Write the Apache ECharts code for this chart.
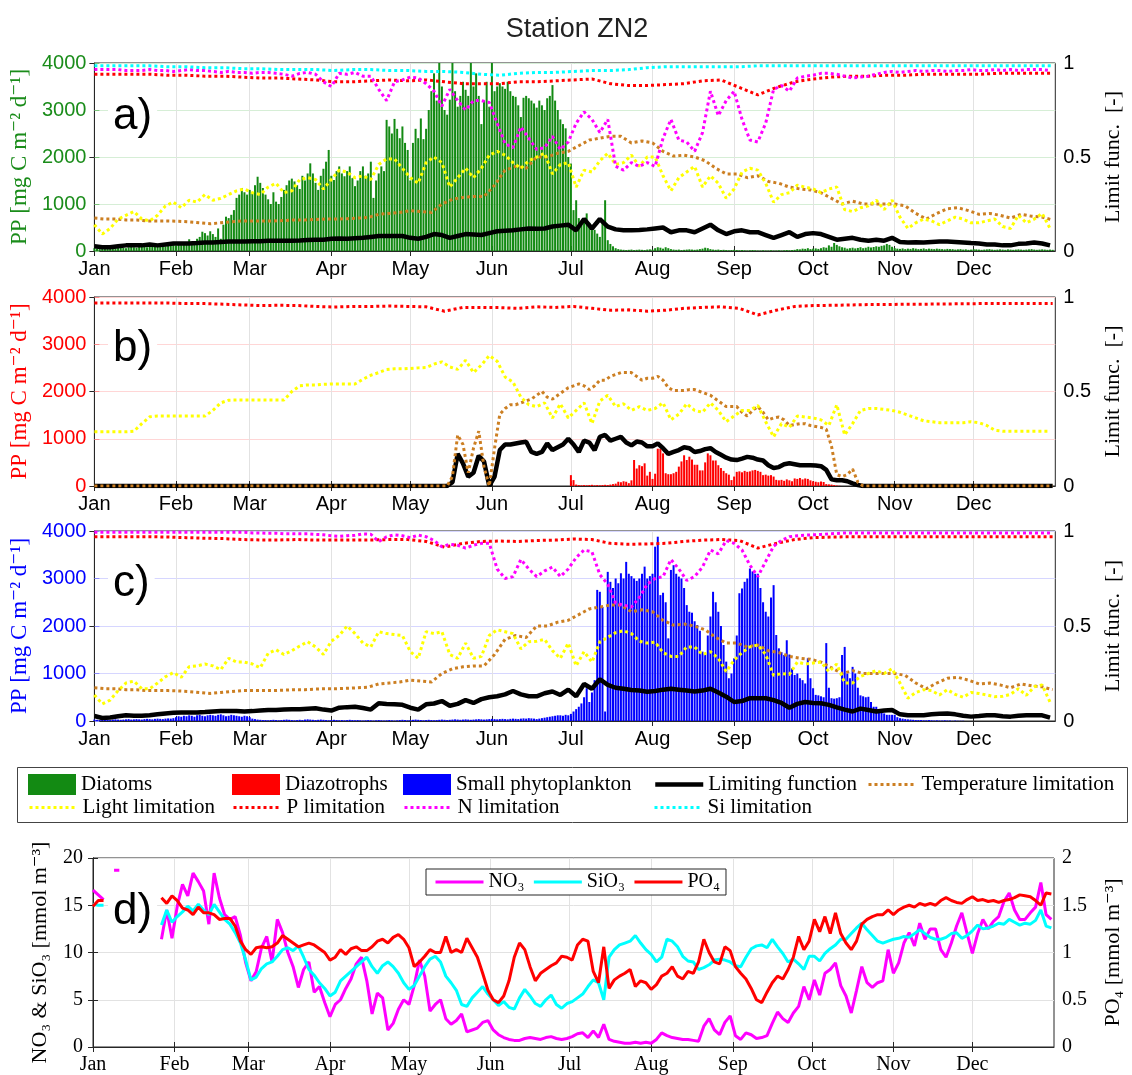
<!DOCTYPE html>
<html>
<head>
<meta charset="utf-8">
<title>Station ZN2</title>
<script src="https://cdn.jsdelivr.net/npm/echarts@6/dist/echarts.min.js"></script>
</head>
<body style="margin:0;background:#fff">
<div id="main" style="width:1132px;height:1075px;"></div>
<script type="text/javascript">
// x axis: day of year (0 = 1 Jan)
var monthStarts = [0, 31, 59, 90, 120, 151, 181, 212, 243, 273, 304, 334];
var monthNames = ['Jan', 'Feb', 'Mar', 'Apr', 'May', 'Jun', 'Jul', 'Aug', 'Sep', 'Oct', 'Nov', 'Dec'];

// ---- panel a: diatoms (daily PP, mg C m-2 d-1) ----
var diatomEarly = [ // day 0..199
  60,50,40,50,60,70,60,50,60,70, 80,70,60,80,90,80,70,90,100,90,
  80,100,110,100,90,110,120,100,110,130, 140,120,150,160,140,180,250,200,170,260,
  300,410,380,330,420,360,300,480,260,560, 730,700,770,870,1130,1200,1340,1250,1200,1300,
  1250,1400,1580,1450,1340,1200,1100,1000,1250,1050, 1000,1150,1300,1400,1500,1540,1480,1400,1320,1600,
  1500,1650,1865,1650,1450,1300,1600,1750,1900,2150, 1600,1510,1700,1800,1650,1590,1700,1800,1550,1380,
  1500,1700,1800,1600,1650,1900,1130,1500,1650,1800, 1700,2790,2650,2500,2810,2600,2400,2650,2300,2150,
  1500,2300,2600,2400,2820,2380,2600,3000,3400,3780, 3200,4000,3500,3000,2900,3220,4000,3400,3070,3300,
  3600,3430,3300,4000,3500,3780,3300,2700,3200,3600, 3070,4000,3400,3500,3570,3500,3450,3600,3400,3300,
  3280,3100,2850,3260,3300,3250,3200,3140,3050,3200, 3100,3000,3250,3300,3530,3200,3000,2800,2700,2610,
  2000,1860,870,1080,700,580,650,800,600,510, 450,370,300,600,1080,230,150,100,60,40
];
var diatomLate = [ // day 200..364
  30,25,20,25,30,20,25,30,25,20, 30,35,30,60,80,70,50,80,60,40,
  30,25,30,20,25,30,35,30,25,30, 40,50,70,60,40,30,25,30,20,25,
  20,15,20,25,20,15,20,15,10,15, 20,15,10,10,15,10,10,15,10,10,
  15,10,15,20,15,20,25,40,35,50, 45,60,40,50,55,45,60,80,70,120,
  90,170,130,100,80,70,50,60,70,55, 65,80,60,70,90,75,85,100,90,110,
  120,150,130,90,60,50,45,55,40,50, 45,60,50,40,45,55,40,50,45,40,
  50,45,40,35,45,40,39,30,35,40, 30,35,25,30,40,35,30,25,30,35,
  40,30,25,30,35,30,25,35,30,25, 30,35,30,25,30,35,40,30,25,30,
  35,30,25,30,25
];
var limA = [ // step 3 days
  0.025,0.02,0.02,0.025,0.03,0.03,0.03,0.035,0.03,0.035,
  0.04,0.04,0.04,0.042,0.045,0.045,0.048,0.05,0.05,0.05,
  0.052,0.052,0.055,0.055,0.055,0.055,0.056,0.058,0.06,0.06,
  0.065,0.066,0.065,0.068,0.07,0.075,0.08,0.08,0.08,0.08,
  0.07,0.065,0.075,0.09,0.085,0.07,0.08,0.09,0.088,0.085,
  0.095,0.105,0.108,0.11,0.115,0.12,0.118,0.12,0.13,0.135,
  0.14,0.11,0.17,0.12,0.17,0.13,0.115,0.11,0.11,0.112,
  0.115,0.12,0.125,0.10,0.11,0.11,0.10,0.12,0.14,0.11,
  0.09,0.105,0.11,0.10,0.10,0.085,0.07,0.085,0.10,0.075,
  0.09,0.095,0.09,0.075,0.06,0.065,0.07,0.06,0.055,0.06,
  0.055,0.07,0.048,0.045,0.047,0.045,0.048,0.05,0.05,0.048,
  0.045,0.042,0.04,0.035,0.035,0.03,0.03,0.038,0.04,0.045,
  0.04,0.03
];
var tempAC = [ // step 4 days, same in panels a and c
  0.175,0.17,0.17,0.165,0.165,0.16,0.16,0.16,0.158,0.155,
  0.15,0.145,0.15,0.155,0.16,0.16,0.16,0.16,0.162,0.165,
  0.165,0.168,0.17,0.17,0.172,0.175,0.178,0.195,0.2,0.205,
  0.215,0.21,0.205,0.25,0.275,0.285,0.29,0.29,0.35,0.43,
  0.45,0.44,0.5,0.5,0.52,0.53,0.56,0.59,0.60,0.61,
  0.61,0.575,0.585,0.575,0.53,0.505,0.51,0.50,0.48,0.44,
  0.41,0.41,0.39,0.40,0.37,0.36,0.34,0.33,0.325,0.31,
  0.28,0.25,0.265,0.25,0.25,0.25,0.25,0.24,0.20,0.17,
  0.20,0.225,0.23,0.215,0.195,0.20,0.19,0.175,0.195,0.185,
  0.18,0.165
];
var lightA = [ // step 3
  0.14,0.09,0.12,0.17,0.19,0.21,0.17,0.16,0.19,0.24,
  0.26,0.23,0.27,0.26,0.30,0.27,0.28,0.30,0.32,0.33,
  0.31,0.30,0.34,0.36,0.31,0.32,0.38,0.39,0.38,0.33,
  0.38,0.43,0.42,0.39,0.40,0.38,0.46,0.49,0.49,0.44,
  0.39,0.36,0.47,0.50,0.47,0.34,0.39,0.44,0.39,0.44,
  0.51,0.53,0.51,0.47,0.44,0.48,0.50,0.52,0.41,0.46,
  0.47,0.34,0.43,0.42,0.48,0.52,0.46,0.47,0.51,0.45,
  0.50,0.50,0.40,0.32,0.39,0.42,0.45,0.34,0.40,0.36,
  0.28,0.33,0.42,0.44,0.43,0.36,0.26,0.30,0.31,0.35,
  0.34,0.33,0.31,0.33,0.34,0.22,0.21,0.23,0.24,0.27,
  0.22,0.27,0.18,0.12,0.15,0.17,0.16,0.14,0.16,0.18,
  0.17,0.15,0.15,0.16,0.17,0.13,0.12,0.19,0.15,0.17,
  0.20,0.12
];
var pA = [ // step 7
  0.94,0.94,0.94,0.94,0.935,0.935,0.93,0.93,0.925,0.92,
  0.92,0.915,0.91,0.90,0.90,0.905,0.91,0.905,0.91,0.90,
  0.89,0.89,0.89,0.90,0.90,0.905,0.91,0.915,0.89,0.88,
  0.88,0.885,0.89,0.905,0.91,0.87,0.83,0.87,0.90,0.915,
  0.925,0.93,0.93,0.935,0.935,0.94,0.94,0.94,0.94,0.945,
  0.945,0.945,0.945
];
var nA = [ // step 3
  0.965,0.965,0.965,0.965,0.96,0.96,0.96,0.965,0.96,0.96,
  0.955,0.96,0.965,0.96,0.96,0.955,0.95,0.955,0.95,0.95,
  0.945,0.95,0.95,0.945,0.94,0.93,0.945,0.95,0.94,0.90,
  0.875,0.945,0.94,0.95,0.93,0.93,0.86,0.80,0.90,0.91,
  0.925,0.92,0.89,0.85,0.77,0.86,0.80,0.75,0.80,0.80,
  0.79,0.68,0.57,0.55,0.66,0.60,0.54,0.55,0.61,0.54,
  0.58,0.68,0.74,0.70,0.63,0.70,0.45,0.43,0.47,0.45,
  0.47,0.45,0.60,0.70,0.59,0.58,0.53,0.63,0.85,0.72,
  0.80,0.85,0.70,0.59,0.58,0.68,0.86,0.88,0.85,0.92,
  0.93,0.935,0.945,0.945,0.94,0.93,0.92,0.925,0.93,0.94,
  0.95,0.955,0.95,0.955,0.96,0.955,0.96,0.96,0.955,0.96,
  0.96,0.965,0.96,0.96,0.965,0.96,0.965,0.96,0.965,0.965,
  0.965,0.96
];
var siA = [ // step 7
  0.985,0.985,0.985,0.985,0.98,0.98,0.975,0.975,0.97,0.97,
  0.965,0.965,0.965,0.96,0.965,0.965,0.96,0.96,0.955,0.955,
  0.95,0.94,0.935,0.945,0.95,0.95,0.955,0.96,0.96,0.965,
  0.975,0.98,0.98,0.98,0.98,0.98,0.985,0.985,0.985,0.985,
  0.985,0.985,0.985,0.985,0.985,0.985,0.985,0.985,0.985,0.985,
  0.985,0.985,0.985
];

// ---- panel b: diazotrophs ----
var diazo = [ // day 180..283
  0,230,125,30,20,15,20,15,20,25, 15,20,15,20,25,20,30,40,50,90,
  80,100,90,60,120,550,370,440,420,480, 220,300,150,260,790,790,690,270,250,250,
  270,300,410,520,650,550,620,560,450,450, 330,330,500,690,650,540,540,440,380,320,
  270,240,125,200,300,310,290,320,300,310, 330,340,320,300,230,240,220,230,200,130,
  120,130,110,140,120,100,160,150,170,140, 160,150,120,100,90,80,95,85,40,35,
  30,20,10,5
];
var limB = [ // step 2
  0,0,0,0,0,0,0,0,0,0, 0,0,0,0,0,0,0,0,0,0, 0,0,0,0,0,0,0,0,0,0,
  0,0,0,0,0,0,0,0,0,0, 0,0,0,0,0,0,0,0,0,0, 0,0,0,0,0,0,0,0,0,0,
  0,0,0,0,0,0,0,0,
  0.02,0.17,0.12,0.05,0.07,0.16,0.13,0,0.05,0.19,
  0.22,0.22,0.225,0.23,0.234,0.18,0.17,0.18,0.225,0.19,
  0.205,0.22,0.25,0.22,0.18,0.24,0.23,0.19,0.26,0.27,
  0.24,0.25,0.26,0.23,0.215,0.235,0.23,0.21,0.21,0.225,
  0.20,0.17,0.18,0.19,0.205,0.20,0.18,0.185,0.195,0.20,
  0.18,0.165,0.15,0.14,0.137,0.145,0.154,0.15,0.14,0.135,
  0.11,0.095,0.10,0.115,0.12,0.115,0.11,0.11,0.11,0.108,
  0.105,0.085,0.035,0.03,0.03,0.025,0.014,0.005,0,
  0,0,0,0,0,0,0,0,0,0, 0,0,0,0,0,0,0,0,0,0, 0,0,0,0,0,0,0,0,0,0, 0,0,0,0,0,0
];
var tempB = [ // step 2
  0,0,0,0,0,0,0,0,0,0, 0,0,0,0,0,0,0,0,0,0, 0,0,0,0,0,0,0,0,0,0,
  0,0,0,0,0,0,0,0,0,0, 0,0,0,0,0,0,0,0,0,0, 0,0,0,0,0,0,0,0,0,0,
  0,0,0,0,0,0,0,0,
  0.05,0.27,0.22,0.07,0.20,0.29,0.10,0,0.2,0.38,
  0.41,0.43,0.43,0.44,0.45,0.46,0.48,0.50,0.47,0.46,
  0.48,0.50,0.52,0.53,0.54,0.53,0.51,0.53,0.56,0.56,
  0.58,0.59,0.60,0.60,0.60,0.58,0.56,0.57,0.57,0.58,
  0.56,0.52,0.505,0.505,0.505,0.51,0.51,0.50,0.49,0.48,
  0.46,0.44,0.42,0.42,0.42,0.39,0.37,0.40,0.42,0.39,
  0.35,0.36,0.365,0.35,0.32,0.325,0.33,0.33,0.32,0.315,
  0.31,0.30,0.21,0.06,0.05,0.06,0.09,0.02,0,
  0,0,0,0,0,0,0,0,0,0, 0,0,0,0,0,0,0,0,0,0, 0,0,0,0,0,0,0,0,0,0, 0,0,0,0,0,0
];
var lightB = [ // step 3
  0.287,0.287,0.287,0.287,0.287,0.29,0.33,0.366,0.37,0.37,
  0.37,0.37,0.37,0.37,0.37,0.40,0.44,0.454,0.455,0.455,
  0.455,0.455,0.455,0.455,0.455,0.50,0.53,0.535,0.535,0.538,
  0.54,0.54,0.54,0.54,0.565,0.586,0.60,0.616,0.62,0.62,
  0.622,0.625,0.627,0.645,0.657,0.63,0.617,0.665,0.60,0.64,
  0.69,0.66,0.577,0.55,0.47,0.43,0.42,0.44,0.36,0.435,
  0.36,0.40,0.44,0.33,0.45,0.48,0.42,0.435,0.40,0.42,
  0.40,0.41,0.44,0.35,0.38,0.435,0.40,0.39,0.44,0.40,
  0.34,0.37,0.40,0.40,0.426,0.34,0.26,0.33,0.31,0.37,
  0.365,0.36,0.35,0.32,0.43,0.27,0.33,0.40,0.41,0.41,
  0.405,0.40,0.39,0.375,0.36,0.345,0.34,0.335,0.335,0.335,
  0.335,0.34,0.335,0.32,0.295,0.29,0.29,0.29,0.29,0.29,
  0.29,0.29
];
var pB = [ // step 7
  0.968,0.968,0.968,0.968,0.968,0.965,0.965,0.962,0.958,0.955,
  0.956,0.955,0.95,0.947,0.95,0.95,0.952,0.95,0.948,0.925,
  0.945,0.945,0.944,0.94,0.948,0.945,0.95,0.94,0.93,0.932,
  0.925,0.93,0.94,0.945,0.948,0.94,0.905,0.93,0.95,0.955,
  0.956,0.958,0.96,0.96,0.962,0.962,0.963,0.964,0.965,0.965,
  0.965,0.965,0.965
];

// ---- panel c: small phytoplankton ----
var smallPhyto = [ // day 0..330
  30,25,20,25,30,25,20,30,35,30, 25,30,35,40,30,35,40,35,30,40,
  45,40,35,45,50,45,40,50,55,50, 60,80,100,90,110,100,120,110,90,120,
  130,110,100,120,130,120,110,130,140,120, 100,110,130,120,110,100,90,110,100,80,
  50,40,30,25,20,20,15,20,25,20, 15,20,25,30,25,20,15,20,25,20,
  30,35,30,25,20,25,30,25,20,15, 20,25,20,15,20,15,20,25,20,15,
  20,15,10,15,20,15,10,15,20,15, 10,15,20,15,10,15,20,25,20,15,
  20,25,30,25,20,15,20,25,20,15, 20,25,30,25,20,25,30,35,30,25,
  30,35,30,25,30,35,40,35,30,35, 40,45,40,35,40,45,40,35,45,50,
  45,40,50,55,50,60,55,50,40,50, 60,70,80,90,100,110,120,120,110,130,
  120,150,200,250,300,370,500,690,400,600, 860,2760,2720,2400,200,3140,2930,2800,3000,2900,
  3110,3000,3350,3100,3050,3000,2950,3000,3100,3250, 3000,3050,3100,3670,3880,2650,2700,2500,1740,3180,
  3280,3100,3040,3000,2800,2440,2300,2280,2100,2020, 1900,1460,1400,1800,2200,2720,2500,2300,2000,1600,
  1250,900,1000,1320,1800,2690,2790,2930,3000,3210, 3150,3100,3100,2800,2500,2300,2200,2600,2860,1810,
  1530,1450,1390,1700,1400,1110,970,1000,900,860, 790,1320,900,690,550,540,520,500,1640,700,
  480,470,480,500,1390,1560,1000,900,1140,1000, 700,540,520,500,510,400,300,300,200,180,
  160,130,130,130,130,80,60,50,40,35, 30,25,20,20,20,15,15,20,15,10,
  15,10,10,15,10,10,5,10,5,5, 5
];
var limC = [ // step 3
  0.026,0.016,0.018,0.025,0.03,0.028,0.028,0.03,0.035,0.04,
  0.043,0.045,0.045,0.045,0.047,0.05,0.052,0.053,0.052,0.05,
  0.052,0.055,0.058,0.058,0.06,0.062,0.062,0.065,0.067,0.06,
  0.055,0.07,0.073,0.075,0.068,0.06,0.093,0.09,0.088,0.085,
  0.07,0.06,0.088,0.092,0.105,0.08,0.09,0.11,0.095,0.115,
  0.125,0.13,0.14,0.158,0.14,0.13,0.13,0.146,0.155,0.137,
  0.165,0.13,0.195,0.17,0.22,0.19,0.175,0.17,0.163,0.16,
  0.154,0.158,0.165,0.17,0.165,0.16,0.155,0.16,0.17,0.15,
  0.128,0.10,0.105,0.12,0.12,0.12,0.11,0.095,0.07,0.09,
  0.10,0.095,0.093,0.085,0.072,0.06,0.05,0.065,0.058,0.05,
  0.055,0.058,0.035,0.03,0.03,0.03,0.035,0.038,0.04,0.035,
  0.028,0.023,0.026,0.03,0.03,0.025,0.023,0.028,0.03,0.03,
  0.03,0.018
];
var lightC = [ // step 3
  0.137,0.09,0.11,0.16,0.20,0.21,0.17,0.17,0.20,0.233,
  0.255,0.23,0.286,0.29,0.30,0.29,0.27,0.33,0.31,0.31,
  0.30,0.28,0.356,0.375,0.35,0.37,0.395,0.417,0.39,0.35,
  0.42,0.45,0.50,0.46,0.41,0.39,0.47,0.46,0.455,0.45,
  0.365,0.33,0.47,0.46,0.47,0.35,0.33,0.41,0.33,0.34,
  0.45,0.48,0.47,0.46,0.38,0.417,0.42,0.43,0.37,0.33,
  0.41,0.29,0.365,0.31,0.417,0.44,0.465,0.475,0.46,0.42,
  0.41,0.415,0.36,0.34,0.34,0.39,0.39,0.35,0.365,0.33,
  0.26,0.32,0.36,0.39,0.40,0.35,0.24,0.25,0.245,0.31,
  0.30,0.305,0.31,0.26,0.30,0.20,0.20,0.235,0.25,0.265,
  0.25,0.275,0.20,0.12,0.15,0.165,0.16,0.137,0.165,0.14,
  0.125,0.15,0.145,0.137,0.128,0.13,0.14,0.17,0.135,0.18,
  0.19,0.10
];
var pC = [ // step 7
  0.97,0.97,0.97,0.97,0.968,0.965,0.962,0.96,0.955,0.953,
  0.953,0.955,0.952,0.952,0.953,0.953,0.955,0.955,0.945,0.915,
  0.935,0.945,0.947,0.945,0.95,0.952,0.958,0.955,0.935,0.93,
  0.932,0.935,0.945,0.952,0.955,0.95,0.91,0.935,0.955,0.965,
  0.968,0.97,0.97,0.97,0.97,0.97,0.97,0.97,0.97,0.97,
  0.97,0.97,0.97
];
var nC = [ // step 3
  0.993,0.993,0.993,0.993,0.993,0.993,0.993,0.993,0.993,0.993,
  0.993,0.993,0.993,0.993,0.993,0.993,0.993,0.993,0.993,0.993,
  0.99,0.99,0.988,0.988,0.985,0.985,0.985,0.985,0.982,0.98,
  0.975,0.972,0.975,0.978,0.985,0.983,0.944,0.97,0.98,0.975,
  0.965,0.978,0.97,0.95,0.917,0.93,0.925,0.91,0.925,0.935,
  0.935,0.80,0.75,0.76,0.85,0.80,0.76,0.79,0.81,0.76,
  0.80,0.86,0.90,0.89,0.77,0.72,0.62,0.61,0.60,0.65,
  0.72,0.75,0.76,0.85,0.80,0.74,0.76,0.81,0.90,0.88,
  0.95,0.935,0.90,0.82,0.76,0.84,0.92,0.95,0.97,0.975,
  0.978,0.98,0.982,0.985,0.987,0.99,0.99,0.99,0.99,0.99,
  0.99,0.99,0.99,0.99,0.99,0.99,0.99,0.99,0.99,0.99,
  0.99,0.99,0.99,0.99,0.99,0.99,0.99,0.99,0.99,0.99,
  0.99,0.99
];

// ---- panel d: nutrients, every 2nd day (null = no data) ----
var no3 = [
  16.6,16.1,15.6,null,18.7,18.7,null,null,null,null,
  null,null,null,11.4,14.5,11.5,14.9,17.2,16.0,18.4,
  17.5,16.5,13.0,18.4,15.8,14.0,13.5,13.8,11.8,8.9,
  7.0,8.0,10.5,11.7,9.0,13.5,12.1,10.0,8.5,6.3,
  8.2,9.0,5.8,6.4,4.7,3.2,4.5,5.0,6.2,7.2,
  8.8,9.5,7.0,3.5,5.7,5.2,1.8,2.5,4.0,5.0,
  4.5,6.5,9.2,7.5,3.8,4.5,5.0,3.0,2.4,2.8,
  3.5,1.6,1.8,2.0,2.6,2.8,1.8,1.3,1.0,0.8,
  0.7,0.7,0.9,1.0,0.9,0.8,1.0,1.1,0.9,0.8,
  0.9,1.1,1.4,1.5,1.0,1.7,1.0,2.4,0.8,0.6,
  0.5,0.4,0.4,0.5,0.4,0.5,0.4,0.8,1.5,1.2,
  1.0,0.9,0.8,0.8,0.7,0.6,2.2,3.0,1.8,1.3,
  2.6,3.3,1.2,0.8,1.5,1.3,0.9,1.0,1.2,2.5,
  3.7,3.0,2.6,3.6,4.3,6.4,5.0,7.1,5.5,7.8,
  8.2,8.9,6.5,5.4,3.6,6.0,8.5,6.8,6.3,6.8,
  7.0,10.3,7.8,8.9,11.0,12.1,10.7,13.1,11.4,12.5,
  12.5,10.3,9.5,11.0,12.8,14.2,12.0,9.9,12.0,13.5,
  12.5,13.3,13.8,15.4,16.3,14.5,13.5,13.5,14.2,14.8,
  17.4,14.0,13.5
];
var sio3 = [
  15.1,15.0,15.0,null,null,null,null,null,null,null,
  null,null,null,12.9,14.5,13.2,13.8,14.3,14.9,14.4,
  15.1,14.5,14.0,15.1,14.3,13.5,13.0,12.1,11.0,9.2,
  7.1,7.4,8.3,8.8,9.0,9.6,10.3,10.5,10.2,10.7,
  9.5,8.2,7.6,6.8,6.2,5.4,5.8,7.0,7.5,8.0,
  8.5,9.0,9.5,8.5,7.8,8.6,9.0,8.5,7.8,6.8,
  6.1,6.5,7.5,8.5,9.3,9.6,9.0,7.5,6.8,6.0,
  4.5,4.3,5.2,5.8,6.4,5.6,5.0,4.4,4.8,4.2,
  4.0,5.2,6.1,5.4,4.6,4.3,5.0,5.5,4.5,4.1,
  4.6,4.8,5.2,5.6,6.4,7.1,6.8,5.0,9.5,10.3,
  10.8,11.0,11.2,11.8,11.0,10.3,9.8,9.0,9.5,11.4,
  11.2,10.6,9.6,9.1,9.0,8.2,8.4,8.7,9.2,9.3,
  9.2,9.0,8.6,8.5,9.5,10.4,10.7,10.8,10.5,11.4,
  10.6,9.9,9.0,9.3,8.8,8.2,9.6,9.6,9.1,9.9,
  10.4,10.8,11.4,11.4,12.0,12.6,13.1,12.4,11.8,11.2,
  11.0,11.2,11.4,11.5,11.7,11.6,12.0,12.4,12.0,11.6,
  11.4,11.4,11.6,12.0,12.1,11.5,11.8,12.3,12.9,12.5,
  12.6,12.8,13.1,13.0,13.5,13.2,12.9,13.1,13.0,13.4,
  14.5,12.8,12.6
];
var po4 = [
  1.49,1.55,1.55,null,null,null,null,null,null,null,
  null,null,null,1.58,1.52,1.60,1.55,1.47,1.45,1.40,
  1.48,1.42,1.42,1.40,1.35,1.36,1.36,1.28,1.12,1.03,
  0.98,1.05,1.06,1.05,1.06,1.10,1.18,1.14,1.10,1.06,
  1.08,1.10,1.08,1.04,1.00,0.92,0.95,1.03,0.98,1.04,
  1.06,1.02,1.02,1.06,1.12,1.14,1.10,1.16,1.19,1.14,
  1.05,0.85,0.90,0.96,1.03,1.00,1.00,1.17,1.00,1.03,
  1.00,1.15,1.05,0.95,0.78,0.60,0.50,0.47,0.54,0.70,
  0.95,1.10,1.03,0.85,0.70,0.78,0.82,0.86,0.89,0.96,
  0.95,0.92,1.08,1.14,1.12,0.80,0.68,1.06,0.62,0.71,
  0.75,0.78,0.82,0.64,0.70,0.68,0.61,0.66,0.75,0.78,
  0.85,0.75,0.72,0.80,0.78,0.90,1.14,1.00,0.90,0.88,
  1.06,1.02,0.85,0.78,0.72,0.62,0.50,0.47,0.58,0.68,
  0.75,0.72,0.82,0.95,1.17,1.03,1.12,1.35,1.22,1.38,
  1.20,1.42,1.20,1.10,1.03,1.12,1.30,1.35,1.38,1.40,
  1.40,1.45,1.40,1.45,1.48,1.50,1.48,1.52,1.50,1.52,
  1.50,1.55,1.58,1.55,1.53,1.52,1.56,1.59,1.55,1.56,
  1.54,1.55,1.53,1.55,1.56,1.58,1.61,1.60,1.59,1.55,
  1.50,1.63,1.62
];

var sans = '"Liberation Sans", Arial, sans-serif';
var serif = '"Liberation Serif", "DejaVu Serif", serif';
var ink = '#262626';
var col = {
  diatom: '#138a13', diazo: '#ff0000', small: '#0000ff',
  lim: '#000000', temp: '#cc7f22', light: '#ffff00', P: '#ff0000', N: '#ff00ff', Si: '#00ffff'
};

function pts(vals, step, start) {
  return vals.map(function (v, i) { return [start + i * step, v]; });
}
function plain(v) { return String(v); }

var myChart = echarts.init(document.getElementById('main'));

var tops = [63, 297, 531, 858];
var heights = [188, 189, 190, 189];
var grids = tops.map(function (t, i) {
  return { left: 93, top: t, width: 967, height: heights[i], show: true, borderColor: ink, borderWidth: 1 };
});

var xAxes = [];
[0, 1, 2, 3].forEach(function (g) {
  xAxes.push({
    type: 'value', gridIndex: g, min: 0, max: 365, position: 'bottom',
    axisLine: { lineStyle: { color: ink } },
    axisTick: { customValues: monthStarts, inside: true, length: 5, lineStyle: { color: ink } },
    axisLabel: {
      customValues: monthStarts, color: '#000', fontSize: 20, margin: 8,
      fontFamily: g === 3 ? serif : sans,
      formatter: function (v) { return monthNames[monthStarts.indexOf(v)]; }
    },
    splitLine: { show: true, lineStyle: { color: '#e2e2e2' } }
  });
});
[0, 1, 2, 3].forEach(function (g) {
  xAxes.push({
    type: 'value', gridIndex: g, min: 0, max: 365, position: 'top',
    axisLine: { show: false },
    axisTick: { customValues: monthStarts, inside: true, length: 5, lineStyle: { color: ink } },
    axisLabel: { show: false }, splitLine: { show: false }
  });
});

function leftPP(g, label, line, gridCol) {
  return {
    type: 'value', gridIndex: g, position: 'left', min: 0, max: 4000, interval: 1000,
    name: 'PP [mg C m⁻² d⁻¹]', nameLocation: 'middle', nameGap: 56,
    nameTextStyle: { color: label, fontFamily: serif, fontSize: 23 },
    axisLine: { show: true, lineStyle: { color: line } },
    axisTick: { show: true, inside: true, length: 5, lineStyle: { color: line } },
    axisLabel: { color: label, fontFamily: sans, fontSize: 20, margin: 8, formatter: plain },
    splitLine: { show: true, lineStyle: { color: gridCol } }
  };
}
function rightLim(g) {
  return {
    type: 'value', gridIndex: g, position: 'right', min: 0, max: 1, interval: 0.5,
    name: 'Limit func.  [-]', nameLocation: 'middle', nameGap: 45,
    nameTextStyle: { color: '#000', fontFamily: serif, fontSize: 22 },
    axisLine: { show: true, lineStyle: { color: ink } },
    axisTick: { show: true, inside: true, length: 5, lineStyle: { color: ink } },
    axisLabel: { color: '#000', fontFamily: sans, fontSize: 20, margin: 8, formatter: plain },
    splitLine: { show: false }
  };
}
var yAxes = [
  leftPP(0, '#1a8c1a', '#7cc47c', '#d6eed6'), rightLim(0),
  leftPP(1, '#ff0000', '#ff8c8c', '#ffd6d6'), rightLim(1),
  leftPP(2, '#0000ff', '#8c8cff', '#d6d6ff'), rightLim(2),
  {
    type: 'value', gridIndex: 3, position: 'left', min: 0, max: 20, interval: 5,
    name: 'NO₃ & SiO₃ [mmol m⁻³]', nameLocation: 'middle', nameGap: 42,
    nameTextStyle: { color: '#000', fontFamily: serif, fontSize: 22 },
    axisLine: { show: true, lineStyle: { color: ink } },
    axisTick: { show: true, inside: true, length: 5, lineStyle: { color: ink } },
    axisLabel: { color: '#000', fontFamily: serif, fontSize: 20, margin: 10, formatter: plain },
    splitLine: { show: true, lineStyle: { color: '#e2e2e2' } }
  },
  {
    type: 'value', gridIndex: 3, position: 'right', min: 0, max: 2, interval: 0.5,
    name: 'PO₄ [mmol m⁻³]', nameLocation: 'middle', nameGap: 48,
    nameTextStyle: { color: '#000', fontFamily: serif, fontSize: 22 },
    axisLine: { show: true, lineStyle: { color: ink } },
    axisTick: { show: true, inside: true, length: 5, lineStyle: { color: ink } },
    axisLabel: { color: '#000', fontFamily: serif, fontSize: 20, margin: 8, formatter: plain },
    splitLine: { show: false }
  }
];

function bar(name, data, g, color) {
  return {
    type: 'bar', name: name, data: data, xAxisIndex: g, yAxisIndex: g * 2,
    barWidth: 2, itemStyle: { color: color }
  };
}
function line(name, data, g, yi, color, width, dotted) {
  return {
    type: 'line', name: name, data: data, xAxisIndex: g, yAxisIndex: yi,
    symbol: 'none', connectNulls: false,
    lineStyle: { color: color, width: width, type: dotted ? 'dotted' : 'solid' },
    itemStyle: { color: color }
  };
}

var series = [
  // a
  bar('Diatoms', pts(diatomEarly, 1, 0).concat(pts(diatomLate, 1, 200)), 0, col.diatom),
  line('Limiting function', pts(limA, 3, 0), 0, 1, col.lim, 4.5, false),
  line('Temperature limitation', pts(tempAC, 4, 0), 0, 1, col.temp, 3, true),
  line('Light limitation', pts(lightA, 3, 0), 0, 1, col.light, 3, true),
  line('P limitation', pts(pA, 7, 0), 0, 1, col.P, 3, true),
  line('N limitation', pts(nA, 3, 0), 0, 1, col.N, 3, true),
  line('Si limitation', pts(siA, 7, 0), 0, 1, col.Si, 3, true),
  // b
  bar('Diazotrophs', pts(diazo, 1, 180), 1, col.diazo),
  line('Limiting function', pts(limB, 2, 0), 1, 3, col.lim, 4.5, false),
  line('Temperature limitation', pts(tempB, 2, 0), 1, 3, col.temp, 3, true),
  line('Light limitation', pts(lightB, 3, 0), 1, 3, col.light, 3, true),
  line('P limitation', pts(pB, 7, 0), 1, 3, col.P, 3, true),
  // c
  bar('Small phytoplankton', pts(smallPhyto, 1, 0), 2, col.small),
  line('Limiting function', pts(limC, 3, 0), 2, 5, col.lim, 4.5, false),
  line('Temperature limitation', pts(tempAC, 4, 0), 2, 5, col.temp, 3, true),
  line('Light limitation', pts(lightC, 3, 0), 2, 5, col.light, 3, true),
  line('P limitation', pts(pC, 7, 0), 2, 5, col.P, 3, true),
  line('N limitation', pts(nC, 3, 0), 2, 5, col.N, 3, true),
  // d
  line('NO₃', pts(no3, 2, 0), 3, 6, '#ff00ff', 3, false),
  line('SiO₃', pts(sio3, 2, 0), 3, 6, '#00ffff', 3, false),
  line('PO₄', pts(po4, 2, 0), 3, 7, '#ff0000', 3, false)
];

function legendItem(name, left, top, isBar) {
  var l = {
    data: [name], left: left, top: top, orient: 'horizontal', padding: 0,
    itemWidth: 48, itemHeight: 21, selectedMode: false,
    textStyle: { fontFamily: serif, fontSize: 21, color: '#000' }
  };
  if (isBar) l.icon = 'rect';
  else {
    l.itemStyle = { opacity: 0 }; // line only, no marker
    l.lineStyle = { width: 'inherit' };
  }
  return l;
}
var legends = [
  legendItem('Diatoms', 28, 774, true),
  legendItem('Diazotrophs', 232, 774, true),
  legendItem('Small phytoplankton', 403, 774, true),
  legendItem('Limiting function', 653, 774, false),
  legendItem('Temperature limitation', 867, 774, false),
  legendItem('Light limitation', 28, 797, false),
  legendItem('P limitation', 232, 797, false),
  legendItem('N limitation', 403, 797, false),
  legendItem('Si limitation', 653, 797, false),
  {
    data: ['NO₃', 'SiO₃', 'PO₄'], left: 426, top: 869, padding: [3, 6, 3, 8],
    itemWidth: 48, itemHeight: 14, itemGap: 8, selectedMode: false,
    itemStyle: { opacity: 0 }, lineStyle: { width: 'inherit' },
    borderColor: ink, borderWidth: 1, backgroundColor: '#fff',
    textStyle: { fontFamily: serif, fontSize: 20, color: '#000' }
  }
];

function panelLabel(txt, top) {
  return {
    type: 'text', left: 108, top: top, z: 50,
    style: { text: txt, font: '44px ' + sans, fill: '#000', backgroundColor: '#fff', padding: [0, 5] }
  };
}

var option = {
  animation: false,
  backgroundColor: '#fff',
  grid: grids,
  xAxis: xAxes,
  yAxis: yAxes,
  legend: legends,
  series: series,
  graphic: [
    { type: 'text', x: 577, y: 30, style: { text: 'Station ZN2', font: '27px ' + sans, fill: '#222', align: 'center', verticalAlign: 'middle' } },
    panelLabel('a)', 95),
    panelLabel('b)', 327),
    panelLabel('c)', 562),
    panelLabel('d)', 890),
    { type: 'rect', shape: { x: 17.5, y: 767.5, width: 1110, height: 55 }, style: { fill: 'none', stroke: '#444', lineWidth: 1 }, z: -1 }
  ]
};

myChart.setOption(option);
</script>
</body>
</html>
